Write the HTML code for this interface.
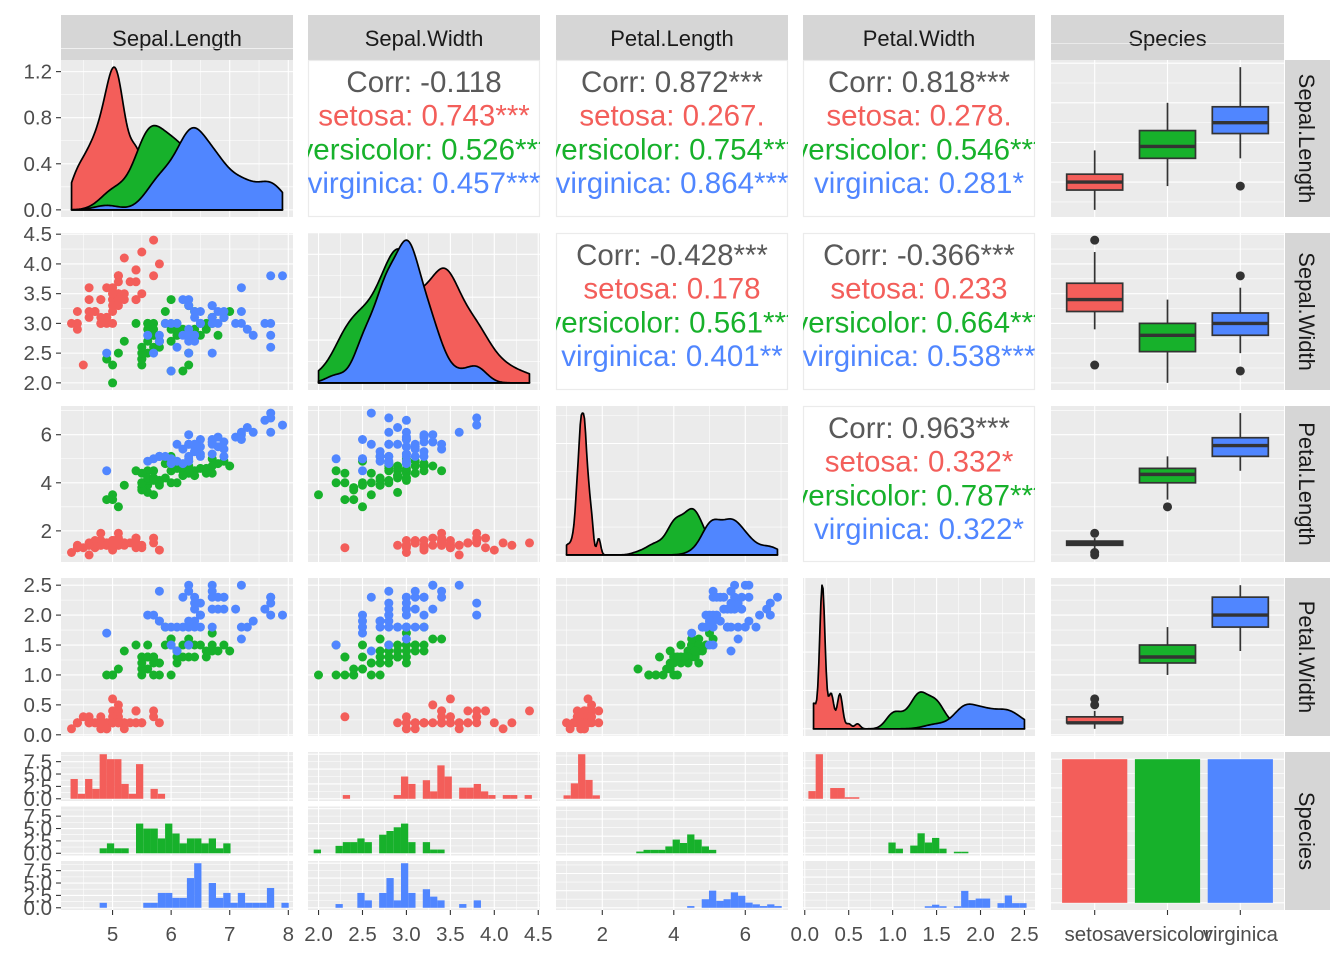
<!DOCTYPE html>
<html><head><meta charset="utf-8">
<style>html,body{margin:0;padding:0;background:#fff}svg{display:block;font-family:"Liberation Sans",Arial,sans-serif}</style>
</head><body>
<svg id="s" width="1344" height="960" xmlns="http://www.w3.org/2000/svg"></svg>
<script>
const RAW=`5.1,3.5,1.4,0.2;4.9,3.0,1.4,0.2;4.7,3.2,1.3,0.2;4.6,3.1,1.5,0.2;5.0,3.6,1.4,0.2;5.4,3.9,1.7,0.4;4.6,3.4,1.4,0.3;5.0,3.4,1.5,0.2;4.4,2.9,1.4,0.2;4.9,3.1,1.5,0.1;5.4,3.7,1.5,0.2;4.8,3.4,1.6,0.2;4.8,3.0,1.4,0.1;4.3,3.0,1.1,0.1;5.8,4.0,1.2,0.2;5.7,4.4,1.5,0.4;5.4,3.9,1.3,0.4;5.1,3.5,1.4,0.3;5.7,3.8,1.7,0.3;5.1,3.8,1.5,0.3;5.4,3.4,1.7,0.2;5.1,3.7,1.5,0.4;4.6,3.6,1.0,0.2;5.1,3.3,1.7,0.5;4.8,3.4,1.9,0.2;5.0,3.0,1.6,0.2;5.0,3.4,1.6,0.4;5.2,3.5,1.5,0.2;5.2,3.4,1.4,0.2;4.7,3.2,1.6,0.2;4.8,3.1,1.6,0.2;5.4,3.4,1.5,0.4;5.2,4.1,1.5,0.1;5.5,4.2,1.4,0.2;4.9,3.1,1.5,0.2;5.0,3.2,1.2,0.2;5.5,3.5,1.3,0.2;4.9,3.6,1.4,0.1;4.4,3.0,1.3,0.2;5.1,3.4,1.5,0.2;5.0,3.5,1.3,0.3;4.5,2.3,1.3,0.3;4.4,3.2,1.3,0.2;5.0,3.5,1.6,0.6;5.1,3.8,1.9,0.4;4.8,3.0,1.4,0.3;5.1,3.8,1.6,0.2;4.6,3.2,1.4,0.2;5.3,3.7,1.5,0.2;5.0,3.3,1.4,0.2;7.0,3.2,4.7,1.4;6.4,3.2,4.5,1.5;6.9,3.1,4.9,1.5;5.5,2.3,4.0,1.3;6.5,2.8,4.6,1.5;5.7,2.8,4.5,1.3;6.3,3.3,4.7,1.6;4.9,2.4,3.3,1.0;6.6,2.9,4.6,1.3;5.2,2.7,3.9,1.4;5.0,2.0,3.5,1.0;5.9,3.0,4.2,1.5;6.0,2.2,4.0,1.0;6.1,2.9,4.7,1.4;5.6,2.9,3.6,1.3;6.7,3.1,4.4,1.4;5.6,3.0,4.5,1.5;5.8,2.7,4.1,1.0;6.2,2.2,4.5,1.5;5.6,2.5,3.9,1.1;5.9,3.2,4.8,1.8;6.1,2.8,4.0,1.3;6.3,2.5,4.9,1.5;6.1,2.8,4.7,1.2;6.4,2.9,4.3,1.3;6.6,3.0,4.4,1.4;6.8,2.8,4.8,1.4;6.7,3.0,5.0,1.7;6.0,2.9,4.5,1.5;5.7,2.6,3.5,1.0;5.5,2.4,3.8,1.1;5.5,2.4,3.7,1.0;5.8,2.7,3.9,1.2;6.0,2.7,5.1,1.6;5.4,3.0,4.5,1.5;6.0,3.4,4.5,1.6;6.7,3.1,4.7,1.5;6.3,2.3,4.4,1.3;5.6,3.0,4.1,1.3;5.5,2.5,4.0,1.3;5.5,2.6,4.4,1.2;6.1,3.0,4.6,1.4;5.8,2.6,4.0,1.2;5.0,2.3,3.3,1.0;5.6,2.7,4.2,1.3;5.7,3.0,4.2,1.2;5.7,2.9,4.2,1.3;6.2,2.9,4.3,1.3;5.1,2.5,3.0,1.1;5.7,2.8,4.1,1.3;6.3,3.3,6.0,2.5;5.8,2.7,5.1,1.9;7.1,3.0,5.9,2.1;6.3,2.9,5.6,1.8;6.5,3.0,5.8,2.2;7.6,3.0,6.6,2.1;4.9,2.5,4.5,1.7;7.3,2.9,6.3,1.8;6.7,2.5,5.8,1.8;7.2,3.6,6.1,2.5;6.5,3.2,5.1,2.0;6.4,2.7,5.3,1.9;6.8,3.0,5.5,2.1;5.7,2.5,5.0,2.0;5.8,2.8,5.1,2.4;6.4,3.2,5.3,2.3;6.5,3.0,5.5,1.8;7.7,3.8,6.7,2.2;7.7,2.6,6.9,2.3;6.0,2.2,5.0,1.5;6.9,3.2,5.7,2.3;5.6,2.8,4.9,2.0;7.7,2.8,6.7,2.0;6.3,2.7,4.9,1.8;6.7,3.3,5.7,2.1;7.2,3.2,6.0,1.8;6.2,2.8,4.8,1.8;6.1,3.0,4.9,1.8;6.4,2.8,5.6,2.1;7.2,3.0,5.8,1.6;7.4,2.8,6.1,1.9;7.9,3.8,6.4,2.0;6.4,2.8,5.6,2.2;6.3,2.8,5.1,1.5;6.1,2.6,5.6,1.4;7.7,3.0,6.1,2.3;6.3,3.4,5.6,2.4;6.4,3.1,5.5,1.8;6.0,3.0,4.8,1.8;6.9,3.1,5.4,2.1;6.7,3.1,5.6,2.4;6.9,3.1,5.1,2.3;5.8,2.7,5.1,1.9;6.8,3.2,5.9,2.3;6.7,3.3,5.7,2.5;6.7,3.0,5.2,2.3;6.3,2.5,5.0,1.9;6.5,3.0,5.2,2.0;6.2,3.4,5.4,2.3;5.9,3.0,5.1,1.8`;
const rows=RAW.split(';').map(r=>r.split(',').map(Number));
const V=[0,1,2,3].map(j=>rows.map(r=>r[j]));
const SP=rows.map((r,i)=>Math.floor(i/50));
const grp=(j,g)=>V[j].filter((_,i)=>SP[i]===g);
const COL=['#F35E5A','#17B12B','#5086FF'];
const CX=[[61,293],[308,540],[556,788],[803,1035],[1051,1284]];
const RY=[[60,217],[233,390],[406,562],[578,736],[752,910]];
const RNG=[[4.3,7.9],[2.0,4.4],[1.0,6.9],[0.1,2.5]];
const TK=[[5,6,7,8],[2,2.5,3,3.5,4,4.5],[2,4,6],[0,0.5,1,1.5,2,2.5]];
const TL=[["5","6","7","8"],["2.0","2.5","3.0","3.5","4.0","4.5"],["2","4","6"],["0.0","0.5","1.0","1.5","2.0","2.5"]];
const AF=20.5;
function lin(d0,d1,p0,p1){const e=(d1-d0)*0.05,a=d0-e,b=d1+e;return v=>p0+(v-a)/(b-a)*(p1-p0);}
const sx=[0,1,2,3].map(c=>lin(RNG[c][0],RNG[c][1],CX[c][0],CX[c][1]));
const sy=[0,1,2,3].map(r=>lin(RNG[r][0],RNG[r][1],RY[r][1],RY[r][0]));
const dx=v=>CX[4][0]+(v-0.4)/3.2*(CX[4][1]-CX[4][0]);
function minors(t){const st=t[1]-t[0];let m=[t[0]-st/2];t.forEach(v=>m.push(v+st/2));return m;}
function ticksFor(max){let best=null;for(let k=-3;k<3;k++)for(const q of [1,2,2.5,4,5]){const st=q*Math.pow(10,k);const n=Math.floor(max/st+1e-9)+1;const sc=Math.abs(n-4);if(!best||sc<best.sc)best={sc,st,n};}
 const t=[];for(let i=0;i<best.n;i++)t.push(i*best.st);return t;}
let s='';let cid=0;
function clipStart(x0,y0,x1,y1){cid++;s+=`<clipPath id="c${cid}"><rect x="${x0}" y="${y0}" width="${x1-x0}" height="${y1-y0}"/></clipPath><g clip-path="url(#c${cid})">`;}
function bgGrid(x0,y0,x1,y1,xs,xm,ys,ym){
 s+=`<rect x="${x0}" y="${y0}" width="${x1-x0}" height="${y1-y0}" fill="#EBEBEB"/>`;
 (xm||[]).forEach(x=>s+=`<line x1="${x}" x2="${x}" y1="${y0}" y2="${y1}" stroke="#fff" stroke-width="0.55"/>`);
 (ym||[]).forEach(y=>s+=`<line y1="${y}" y2="${y}" x1="${x0}" x2="${x1}" stroke="#fff" stroke-width="0.55"/>`);
 (xs||[]).forEach(x=>s+=`<line x1="${x}" x2="${x}" y1="${y0}" y2="${y1}" stroke="#fff" stroke-width="1.1"/>`);
 (ys||[]).forEach(y=>s+=`<line y1="${y}" y2="${y}" x1="${x0}" x2="${x1}" stroke="#fff" stroke-width="1.1"/>`);
}
function sd(a){const m=a.reduce((p,c)=>p+c,0)/a.length;return Math.sqrt(a.reduce((p,c)=>p+(c-m)*(c-m),0)/(a.length-1));}
function q7(a,p){const b=[...a].sort((x,y)=>x-y);const h=(b.length-1)*p,l=Math.floor(h);return b[l]+(h-l)*((b[Math.min(l+1,b.length-1)])-b[l]);}
function bw(a){const iqr=q7(a,.75)-q7(a,.25);return 0.9*Math.min(sd(a),iqr/1.34)*Math.pow(a.length,-0.2);}
function kde(a,h,x){let t=0;for(const v of a){const z=(x-v)/h;t+=Math.exp(-z*z/2);}return t/(a.length*h*Math.sqrt(2*Math.PI));}
const NAMES=['Sepal.Length','Sepal.Width','Petal.Length','Petal.Width','Species'];
for(let c=0;c<5;c++){s+=`<rect x="${CX[c][0]}" y="15" width="${CX[c][1]-CX[c][0]}" height="45" fill="#D6D6D6"/><text x="${(CX[c][0]+CX[c][1])/2}" y="46" font-size="22" text-anchor="middle" fill="#1A1A1A">${NAMES[c]}</text>`;}
for(let r=0;r<5;r++){const cy=(RY[r][0]+RY[r][1])/2;s+=`<rect x="1285" y="${RY[r][0]}" width="45" height="${RY[r][1]-RY[r][0]}" fill="#D6D6D6"/><text transform="translate(1299,${cy}) rotate(90)" font-size="22" text-anchor="middle" fill="#1A1A1A">${NAMES[r]}</text>`;}
const CORR={"0,1":["-0.118","0.743***","0.526***","0.457***"],"0,2":["0.872***","0.267.","0.754***","0.864***"],"0,3":["0.818***","0.278.","0.546***","0.281*"],"1,2":["-0.428***","0.178","0.561***","0.401**"],"1,3":["-0.366***","0.233","0.664***","0.538***"],"2,3":["0.963***","0.332*","0.787***","0.322*"]};
let densTicksRow0=null,densScaleRow0=null;
for(let r=0;r<4;r++)for(let c=0;c<4;c++){
 const [x0,x1]=CX[c],[y0,y1]=RY[r];
 const xs=TK[c].map(sx[c]),xm=minors(TK[c]).map(sx[c]);
 if(r<c){
  s+=`<rect x="${x0+0.5}" y="${y0+0.5}" width="${x1-x0-1}" height="${y1-y0-1}" fill="#fff" stroke="#EBEBEB" stroke-width="1.2"/>`;
  clipStart(x0,y0,x1,y1);const cx=(x0+x1)/2,v=CORR[r+','+c];const lab=['Corr: ','setosa: ','versicolor: ','virginica: '];const fc=['#595959',COL[0],COL[1],COL[2]];
  for(let i=0;i<4;i++)s+=`<text x="${cx}" y="${y0+32+i*33.7}" font-size="29.5" text-anchor="middle" fill="${fc[i]}">${lab[i]}${v[i]}</text>`;
  s+='</g>';continue;
 }
 if(r===c){
  const lo=RNG[c][0],hi=RNG[c][1];const curves=[];let mx=0;
  for(let g=0;g<3;g++){const a=grp(c,g),h=bw(a);const pts=[];for(let i=0;i<=200;i++){const x=lo+(hi-lo)*i/200;const d=kde(a,h,x);mx=Math.max(mx,d);pts.push([x,d]);}curves.push(pts);}
  const yd=v=>y1-(v+mx*0.05)/(mx*1.1)*(y1-y0);
  const t=ticksFor(mx);const tm=minors(t);
  bgGrid(x0,y0,x1,y1,xs,xm,t.map(yd),tm.map(yd));
  if(r===0){densTicksRow0=t;densScaleRow0=yd;}
  clipStart(x0,y0,x1,y1);
  curves.forEach((pts,g)=>{let p=`M${sx[c](lo)},${yd(0)}`;pts.forEach(q=>p+=`L${sx[c](q[0]).toFixed(2)},${yd(q[1]).toFixed(2)}`);p+=`L${sx[c](hi)},${yd(0)}Z`;s+=`<path d="${p}" fill="${COL[g]}" stroke="#000" stroke-width="1.7" stroke-linejoin="round"/>`;});
  s+='</g>';continue;
 }
 bgGrid(x0,y0,x1,y1,xs,xm,TK[r].map(sy[r]),minors(TK[r]).map(sy[r]));
 clipStart(x0,y0,x1,y1);
 for(let i=0;i<150;i++)s+=`<circle cx="${sx[c](V[c][i]).toFixed(1)}" cy="${sy[r](V[r][i]).toFixed(1)}" r="4.5" fill="${COL[SP[i]]}"/>`;
 s+='</g>';
}
const catX=[1,2,3].map(dx);
for(let r=0;r<4;r++){
 const [x0,x1]=CX[4],[y0,y1]=RY[r];
 bgGrid(x0,y0,x1,y1,catX,[],TK[r].map(sy[r]),minors(TK[r]).map(sy[r]));
 clipStart(x0,y0,x1,y1);
 for(let g=0;g<3;g++){const a=grp(r,g);const q1=q7(a,.25),md=q7(a,.5),q3=q7(a,.75),iq=q3-q1;
  const inr=a.filter(v=>v>=q1-1.5*iq&&v<=q3+1.5*iq);const wl=Math.min(...inr),wh=Math.max(...inr);
  const cx=catX[g],hw=28,Y=sy[r];
  s+=`<line x1="${cx}" x2="${cx}" y1="${Y(wh)}" y2="${Y(q3)}" stroke="#333" stroke-width="1.7"/><line x1="${cx}" x2="${cx}" y1="${Y(q1)}" y2="${Y(wl)}" stroke="#333" stroke-width="1.7"/>`;
  s+=`<rect x="${cx-hw}" y="${Y(q3)}" width="${2*hw}" height="${Math.max(0.5,Y(q1)-Y(q3))}" fill="${COL[g]}" stroke="#333" stroke-width="1.7"/>`;
  s+=`<line x1="${cx-hw}" x2="${cx+hw}" y1="${Y(md)}" y2="${Y(md)}" stroke="#333" stroke-width="3.4"/>`;
  [...new Set(a.filter(v=>v<wl||v>wh))].forEach(v=>s+=`<circle cx="${cx}" cy="${Y(v)}" r="4.5" fill="#333"/>`);
 }
 s+='</g>';
}
const FH=49,GAP=5.5;const facY=[0,1,2].map(k=>[752+k*(FH+GAP),752+k*(FH+GAP)+FH]);
for(let c=0;c<4;c++){
 const [x0,x1]=CX[c];const lo=RNG[c][0],hi=RNG[c][1];const w=(hi-lo)/29;const bd=w/2;const sh=Math.floor((lo-bd)/w+1e-9);const org=bd+sh*w;
 const nb=Math.ceil((hi-org)/w+1e-9)+1;
 const cnt=[0,1,2].map(g=>{const a=new Array(nb).fill(0);grp(c,g).forEach(v=>{let k=Math.floor((v-org)/w+1e-9);if(k<0)k=0;a[k]++;});return a;});
 const mx=Math.max(...cnt.flat());
 const t=c===0?[0,2.5,5,7.5]:ticksFor(mx);const tm=minors(t);
 for(let g=0;g<3;g++){
  const [fy0,fy1]=facY[g];const yh=v=>fy1-(v+mx*0.05)/(mx*1.1)*FH;
  bgGrid(x0,fy0,x1,fy1,TK[c].map(sx[c]),minors(TK[c]).map(sx[c]),t.map(yh),tm.map(yh));
  clipStart(x0,fy0,x1,fy1);
  cnt[g].forEach((n,k)=>{if(!n)return;const a=sx[c](org+k*w),b=sx[c](org+(k+1)*w);s+=`<rect x="${a}" y="${yh(n)}" width="${b-a}" height="${yh(0)-yh(n)}" fill="${COL[g]}"/>`;});
  s+='</g>';
  if(c===0){t.forEach((v,i)=>{const y=yh(v);s+=`<line x1="56" x2="61" y1="${y}" y2="${y}" stroke="#333" stroke-width="1.1"/><text x="52" y="${y+7}" font-size="${AF}" text-anchor="end" fill="#4D4D4D">${v.toFixed(1)}</text>`;});}
 }
}
{const [x0,x1]=CX[4],[y0,y1]=RY[4];const yb=v=>y1-(v+2.5)/55*(y1-y0);
 const t=[0,10,20,30,40,50];bgGrid(x0,y0,x1,y1,catX,[],t.map(yb),minors(t).map(yb));
 clipStart(x0,y0,x1,y1);for(let g=0;g<3;g++)s+=`<rect x="${catX[g]-32.6}" y="${yb(50)}" width="65.2" height="${yb(0)-yb(50)}" fill="${COL[g]}"/>`;s+='</g>';}
for(let r=0;r<4;r++){
 let tk,tl,f;
 if(r===0){tk=densTicksRow0;tl=tk.map(v=>v.toFixed(1));f=densScaleRow0;}else{tk=TK[r];tl=TL[r];f=sy[r];}
 tk.forEach((v,i)=>{const y=f(v);if(y<RY[r][0]-1||y>RY[r][1]+1)return;s+=`<line x1="56" x2="61" y1="${y}" y2="${y}" stroke="#333" stroke-width="1.1"/><text x="52" y="${y+7}" font-size="${AF}" text-anchor="end" fill="#4D4D4D">${tl[i]}</text>`;});
}
for(let c=0;c<4;c++)TK[c].forEach((v,i)=>{const x=sx[c](v);s+=`<line x1="${x}" x2="${x}" y1="910" y2="915" stroke="#333" stroke-width="1.1"/><text x="${x}" y="941" font-size="${AF}" text-anchor="middle" fill="#4D4D4D">${TL[c][i]}</text>`;});
['setosa','versicolor','virginica'].forEach((n,g)=>{const x=catX[g];s+=`<line x1="${x}" x2="${x}" y1="910" y2="915" stroke="#333" stroke-width="1.1"/><text x="${x}" y="941" font-size="${AF}" text-anchor="middle" fill="#4D4D4D">${n}</text>`;});
document.getElementById('s').innerHTML=s;
</script>
</body></html>
